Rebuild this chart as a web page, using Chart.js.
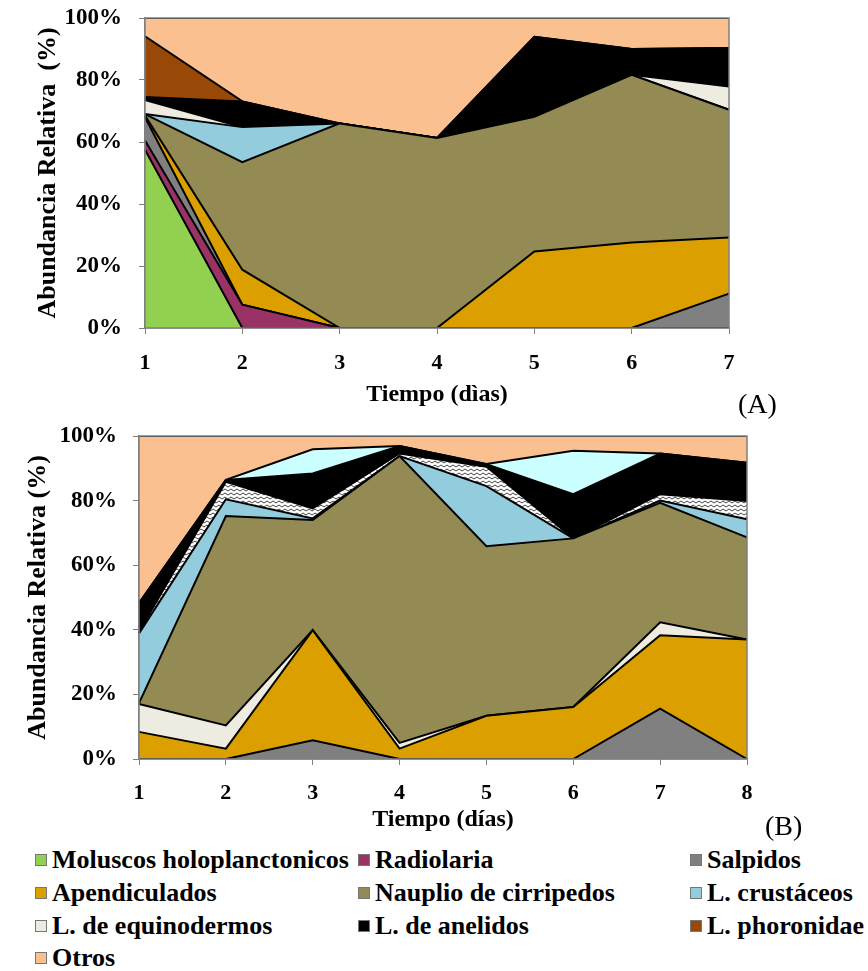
<!DOCTYPE html>
<html>
<head>
<meta charset="utf-8">
<script src="https://cdn.jsdelivr.net/npm/chart.js@4/dist/chart.umd.min.js"></script>
<style>
  body { margin: 0; background: #fff; width: 868px; height: 971px; position: relative; overflow: hidden;
         font-family: "Liberation Serif", "Times New Roman", serif; }
  canvas { position: absolute; left: 0; }
  #chartA { top: 0; }
  #chartB { top: 420px; }
  .panel { position: absolute; font-size: 28px; line-height: 28px; color: #000; }
  .item { position: absolute; font-weight: bold; font-size: 26px; line-height: 30px; white-space: nowrap; color: #000; }
  .sw { position: absolute; width: 10px; height: 10px; border: 1px solid #777; }
</style>
</head>
<body>
<canvas id="chartA" width="868" height="415"></canvas>
<canvas id="chartB" width="868" height="420"></canvas>
<div class="panel" style="left:738px; top:390px;">(A)</div>
<div class="panel" style="left:765px; top:812px;">(B)</div>
<div id="legend"></div>
<script>
// Panel A: days 1-7, relative abundance (%)
const diasA = ['1', '2', '3', '4', '5', '6', '7'];
const moluscosA   = [57.5, 0, 0, 0, 0, 0, 0];
const radiolariaA = [3, 7.5, 0, 0, 0, 0, 0];
const salpidosA   = [7.5, 0, 0, 0, 0, 0, 11.1];
const apendA      = [0.5, 11.3, 0, 0, 24.7, 27.6, 18.1];
const naupA       = [0.5, 34.7, 66, 61.3, 43.4, 54.1, 41.2];
const crustA      = [0, 11.3, 0, 0, 0, 0, 0];
const equinA      = [4.5, 0, 0, 0, 0, 0, 7.5];
const anelA       = [1, 8.3, 0, 0, 25.8, 8.3, 12.4];
const phoroA      = [19.6, 0, 0, 0, 0, 0, 0];
const otrosA      = [5.9, 26.9, 34, 38.7, 6.1, 10, 9.7];

// Panel B: days 1-8
const diasB = ['1', '2', '3', '4', '5', '6', '7', '8'];
const salpidosB = [0, 0, 5.8, 0, 0, 0, 15.6, 0];
const apendB    = [8.4, 3.2, 34.1, 3.2, 13.4, 16.1, 22.7, 37];
const equinB    = [8.6, 7.2, 0, 1.8, 0, 0, 4, 0];
const naupB     = [0.3, 64.8, 34.1, 88.8, 52.5, 52.2, 37, 31.6];
const crustB    = [21.6, 5.2, 0.5, 0, 18.6, 0, 0.7, 5.6];
const rayadoB   = [0.5, 5.4, 3.1, 0.8, 6, 0, 2, 5.7];
const anelB     = [8.9, 0.6, 10.8, 2.3, 0.8, 13.7, 12.6, 11.8];
const cianB     = [0, 0, 7.5, 0, 0, 13.4, 0, 0];
const otrosB    = [51.7, 13.6, 4.1, 3.1, 8.7, 4.6, 5.4, 8.3];

const yTicks = [0, 20, 40, 60, 80, 100];

const legendLabels = ['Moluscos holoplanctonicos', 'Radiolaria', 'Salpidos',
  'Apendiculados', 'Nauplio de cirripedos', 'L. crustáceos',
  'L. de equinodermos', 'L. de anelidos', 'L. phoronidae', 'Otros'];
const legendColors = ['#92D050', '#993366', '#808080',
  '#DBA000', '#948A54', '#93CDDD',
  '#EEECE1', '#000000', '#984807', '#FAC090'];
const col = {};
legendLabels.forEach((l, i) => col[l] = legendColors[i]);

// zigzag fill used for the unlabeled band in panel B
function zigzag() {
  const c = document.createElement('canvas');
  c.width = 6; c.height = 4;
  const g = c.getContext('2d');
  g.fillStyle = '#fff';
  g.fillRect(0, 0, 6, 4);
  g.strokeStyle = '#444';
  g.lineWidth = 1;
  g.beginPath();
  g.moveTo(0, 3); g.lineTo(3, 1); g.lineTo(6, 3);
  g.stroke();
  return g.createPattern(c, 'repeat');
}

const serif = '"Liberation Serif", "Times New Roman", serif';

const frame = {
  id: 'frame',
  afterDatasetsDraw(chart) {
    const a = chart.chartArea, ctx = chart.ctx;
    ctx.save();
    ctx.strokeStyle = '#808080';
    ctx.lineWidth = 1.5;
    ctx.strokeRect(a.left, a.top, a.right - a.left, a.bottom - a.top);
    ctx.restore();
  }
};

function areaChart(id, labels, sets, xTitle, g) {
  return new Chart(document.getElementById(id), {
    type: 'line',
    data: {
      labels: labels,
      datasets: sets.map((s, i) => ({
        label: s[0],
        data: s[1],
        backgroundColor: s[2],
        fill: i === 0 ? 'origin' : '-1',
        borderColor: '#000',
        borderWidth: 2,
        pointRadius: 0,
        tension: 0
      }))
    },
    options: {
      responsive: false,
      animation: false,
      layout: { padding: { left: 0, right: g.right, top: g.top, bottom: 0 } },
      plugins: { legend: { display: false }, tooltip: { enabled: false } },
      scales: {
        x: {
          offset: false,
          grid: { drawOnChartArea: false, tickLength: 6, color: '#808080' },
          border: { color: '#808080', width: 1.5 },
          ticks: { padding: g.xPad, color: '#000', maxRotation: 0,
                   font: { family: serif, size: 22, weight: 'bold' } },
          title: { display: true, text: xTitle, color: '#000', padding: { top: 0, bottom: 6 },
                   font: { family: serif, size: 24, weight: 'bold' } },
          afterFit: s => { s.height = g.xH; s.paddingLeft = 0; s.paddingRight = 0; }
        },
        y: {
          stacked: true,
          min: 0,
          max: 100,
          afterBuildTicks: s => { s.ticks = yTicks.map(v => ({ value: v })); },
          grid: { drawOnChartArea: false, tickLength: 6, color: '#808080' },
          border: { color: '#808080', width: 1.5 },
          ticks: { padding: g.yPad, color: '#000', callback: v => v + '%',
                   font: { family: serif, size: 23, weight: 'bold' } },
          title: { display: true, text: g.yTitle, color: '#000', padding: { top: g.tPad, bottom: 0 },
                   font: { family: serif, size: 26, weight: 'bold' } },
          afterFit: s => { s.width = g.yW; s.paddingTop = 0; s.paddingBottom = 0; }
        }
      }
    },
    plugins: [frame]
  });
}

areaChart('chartA', diasA, [
  ['Moluscos holoplanctonicos', moluscosA, col['Moluscos holoplanctonicos']],
  ['Radiolaria', radiolariaA, col['Radiolaria']],
  ['Salpidos', salpidosA, col['Salpidos']],
  ['Apendiculados', apendA, col['Apendiculados']],
  ['Nauplio de cirripedos', naupA, col['Nauplio de cirripedos']],
  ['L. crustáceos', crustA, col['L. crustáceos']],
  ['L. de equinodermos', equinA, col['L. de equinodermos']],
  ['L. de anelidos', anelA, col['L. de anelidos']],
  ['L. phoronidae', phoroA, col['L. phoronidae']],
  ['Otros', otrosA, col['Otros']]
], 'Tiempo (dìas)', { right: 139, top: 18, xH: 87, yW: 145, xPad: 16, yPad: 17, tPad: 33,
                      yTitle: 'Abundancia Relativa  (%)' });

areaChart('chartB', diasB, [
  ['Salpidos', salpidosB, col['Salpidos']],
  ['Apendiculados', apendB, col['Apendiculados']],
  ['L. de equinodermos', equinB, col['L. de equinodermos']],
  ['Nauplio de cirripedos', naupB, col['Nauplio de cirripedos']],
  ['L. crustáceos', crustB, col['L. crustáceos']],
  ['rayado', rayadoB, zigzag()],
  ['L. de anelidos', anelB, col['L. de anelidos']],
  ['cian', cianB, '#CCFFFF'],
  ['Otros', otrosB, col['Otros']]
], 'Tiempo (días)', { right: 121, top: 16, xH: 81, yW: 139, xPad: 15, yPad: 16, tPad: 23,
                      yTitle: 'Abundancia Relativa (%)' });

// shared legend, three columns
const legend = document.getElementById('legend');
const colX = [35, 358, 690];
const rowY = [860, 893, 926, 958];
legendLabels.forEach((l, i) => {
  const x = colX[i % 3], y = rowY[Math.floor(i / 3)];
  const sw = document.createElement('div');
  sw.className = 'sw';
  sw.style.left = x + 'px';
  sw.style.top = (y - 6) + 'px';
  sw.style.background = legendColors[i];
  legend.appendChild(sw);
  const t = document.createElement('div');
  t.className = 'item';
  t.style.left = (x + 17) + 'px';
  t.style.top = (y - 15) + 'px';
  t.textContent = l;
  legend.appendChild(t);
});
</script>
</body>
</html>
